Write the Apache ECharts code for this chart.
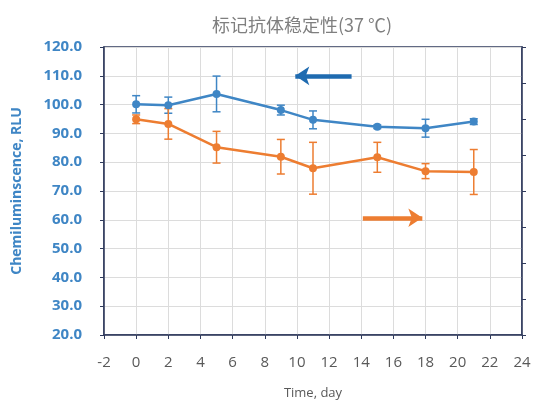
<!DOCTYPE html>
<html>
<head>
<meta charset="utf-8">
<script src="https://cdn.jsdelivr.net/npm/echarts@6/dist/echarts.min.js"></script>
<style>
  html, body { margin: 0; padding: 0; background: #fff; }
  #chart { width: 535px; height: 401px; }
</style>
</head>
<body>
<div id="chart"></div>
<script>
const days = [0, 2, 5, 9, 11, 15, 18, 21]
const blueValues = [100.1, 99.8, 103.7, 98.1, 94.7, 92.3, 91.8, 94.1]
const blueErrors = [3.0, 2.8, 6.2, 1.7, 3.1, 0.6, 3.1, 1.0]
const orangeValues = [94.9, 93.3, 85.2, 81.9, 77.9, 81.7, 76.9, 76.6]
const orangeErrors = [1.5, 5.3, 5.5, 6.0, 9.0, 5.2, 2.6, 7.8]

const blue = '#3f86c5'
const orange = '#ed7d31'
const navy = '#2f3a5c'

const pairs = (xs, ys) => xs.map((x, i) => [x, ys[i]])
const errRows = (xs, ys, es) => xs.map((x, i) => [x, ys[i] - es[i], ys[i] + es[i]])

// vertical error bar with small caps
const errorBars = color => (params, api) => {
    let top = api.coord([api.value(0), api.value(2)])
    let bot = api.coord([api.value(0), api.value(1)])
    let w = 4
    let style = { stroke: color, lineWidth: 1.5 }
    return {
        type: 'group',
        children: [
            { type: 'line', shape: { x1: top[0], y1: top[1], x2: bot[0], y2: bot[1] }, style },
            { type: 'line', shape: { x1: top[0] - w, y1: top[1], x2: top[0] + w, y2: top[1] }, style },
            { type: 'line', shape: { x1: bot[0] - w, y1: bot[1], x2: bot[0] + w, y2: bot[1] }, style }
        ]
    }
}

let chart = echarts.init(document.getElementById('chart'))
chart.setOption({
    animation: false,
    title: {
        text: '标记抗体稳定性(37 ℃)',
        left: 297,
        textAlign: 'center',
        top: 11,
        textStyle: { fontSize: 18, fontWeight: 'normal', color: '#7f7f7f', fontFamily: 'Noto Sans CJK SC' }
    },
    grid: {
        left: 104, right: 13, top: 47, bottom: 66,
        outerBoundsMode: 'none',
        show: true, borderColor: navy, borderWidth: 1.5
    },
    xAxis: {
        type: 'value',
        min: -2, max: 24, interval: 2,
        name: 'Time, day',
        nameLocation: 'middle',
        nameGap: 52,
        nameTextStyle: { fontSize: 13, color: '#595959', fontFamily: 'Open Sans' },
        axisLine: { onZero: false, lineStyle: { color: navy, width: 1.5 } },
        axisTick: { show: true, length: 4, lineStyle: { color: navy } },
        axisLabel: { fontSize: 15, color: '#595959', margin: 20, fontFamily: 'Open Sans' },
        splitLine: { show: true, lineStyle: { color: '#dcdcdc' } }
    },
    yAxis: [{
        type: 'value',
        min: 20, max: 120, interval: 10,
        name: 'Chemiluminscence, RLU',
        nameLocation: 'middle',
        nameGap: 80,
        nameTextStyle: { fontSize: 14, fontWeight: 'bold', color: blue, fontFamily: 'Open Sans' },
        axisLine: { show: true, onZero: false, lineStyle: { color: navy, width: 1.5 } },
        axisTick: { show: true, length: 4, lineStyle: { color: navy } },
        axisLabel: { fontSize: 15, fontWeight: 'bold', color: blue, margin: 22, fontFamily: 'Open Sans',
            formatter: v => v.toFixed(1) },
        splitLine: { show: true, lineStyle: { color: '#dcdcdc' } }
    }, {
        type: 'value',
        min: 20, max: 120, interval: 12.5,
        position: 'right',
        axisLine: { show: true, onZero: false, lineStyle: { color: navy, width: 1.5 } },
        axisTick: { show: true, length: 4, lineStyle: { color: navy } },
        axisLabel: { show: false },
        splitLine: { show: false }
    }],
    series: [{
        type: 'custom',
        renderItem: errorBars(blue),
        data: errRows(days, blueValues, blueErrors),
        encode: { x: 0, y: [1, 2] },
        z: 3
    }, {
        type: 'custom',
        yAxisIndex: 1,
        renderItem: errorBars(orange),
        data: errRows(days, orangeValues, orangeErrors),
        encode: { x: 0, y: [1, 2] },
        z: 3
    }, {
        name: 'blue',
        type: 'line',
        data: pairs(days, blueValues),
        symbol: 'circle',
        symbolSize: 8,
        lineStyle: { color: blue, width: 2.5 },
        itemStyle: { color: blue },
        z: 4,
        markLine: {
            silent: true,
            symbol: ['arrow', 'none'],
            symbolSize: [14, 14],
            label: { show: false },
            lineStyle: { color: '#1f6bb0', width: 4.5, type: 'solid' },
            data: [[{ coord: [9.9, 110] }, { coord: [13.4, 110] }]]
        }
    }, {
        name: 'orange',
        type: 'line',
        yAxisIndex: 1,
        data: pairs(days, orangeValues),
        symbol: 'circle',
        symbolSize: 8,
        lineStyle: { color: orange, width: 2.5 },
        itemStyle: { color: orange },
        z: 4,
        markLine: {
            silent: true,
            symbol: ['none', 'arrow'],
            symbolSize: [14, 14],
            label: { show: false },
            lineStyle: { color: orange, width: 4.5, type: 'solid' },
            data: [[{ coord: [14.1, 60.7] }, { coord: [17.8, 60.7] }]]
        }
    }]
})
</script>
</body>
</html>
